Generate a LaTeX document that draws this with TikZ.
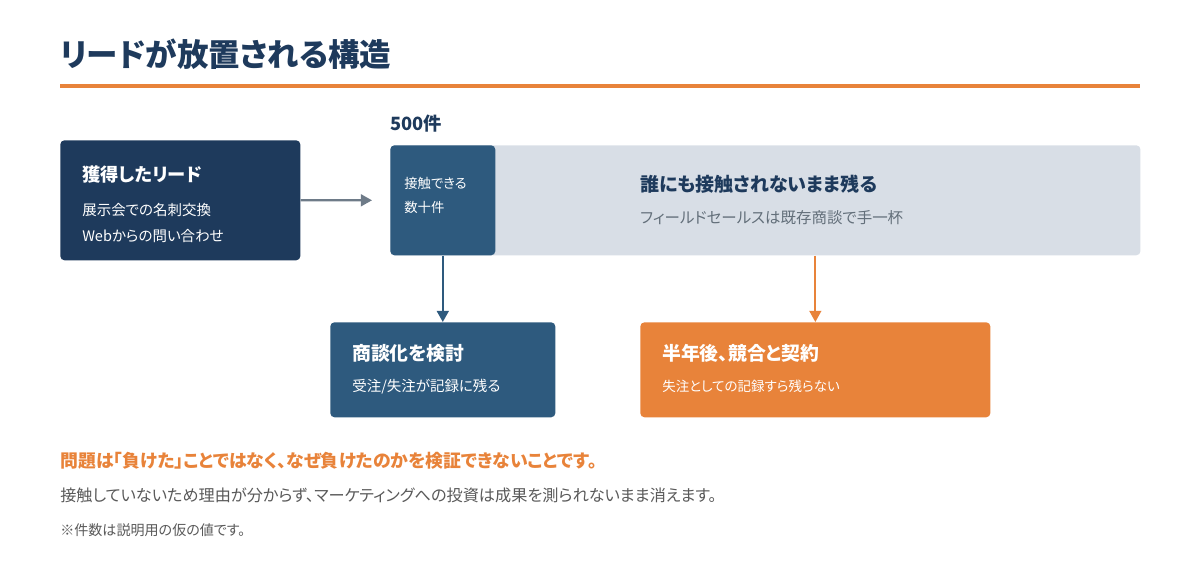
\documentclass[tikz,border=0pt]{standalone}
\usepackage{fontspec}
\setmainfont{Noto Sans CJK JP}[RawFeature=+palt]
\usetikzlibrary{positioning,arrows.meta}

\definecolor{navy}{HTML}{1E3A5C}
\definecolor{steel}{HTML}{2E5A7E}
\definecolor{mist}{HTML}{D8DEE6}
\definecolor{accent}{HTML}{E8833A}
\definecolor{slate}{HTML}{6E7B88}
\definecolor{inkgray}{HTML}{595959}

\begin{document}
\begin{tikzpicture}[x=0.025cm, y=-0.025cm,
  box/.style={rectangle, rounded corners=3pt, inner sep=0pt, anchor=north west},
  head/.style={anchor=base west, inner sep=0pt, text=white, font=\bfseries\fontsize{13.4}{15}\selectfont},
  sub/.style={anchor=base west, inner sep=0pt, text=white, font=\fontsize{10.3}{12}\selectfont},
  link/.style={line width=1.6pt, -{Triangle[length=8pt,width=8.5pt]}}]
  \useasboundingbox (0,0) rectangle (1200,560);
  % title
  \node[anchor=base west, inner sep=0pt, text=navy, font=\bfseries\fontsize{22.4}{26}\selectfont] (title) at (60,66) {リードが放置される構造};
  \draw[accent, line width=3pt] (60,86) -- (1140,86);
  \node[anchor=base west, inner sep=0pt, text=navy, font=\bfseries\fontsize{13}{15}\selectfont] (count) at (390,130) {500件};
  % boxes
  \node[box, fill=navy, minimum width=6cm, minimum height=3cm] (lead) at (60,140) {};
  \node[box, fill=mist, minimum width=18.75cm, minimum height=2.75cm] (pool) at (390,145) {};
  \node[box, fill=steel, minimum width=2.625cm, minimum height=2.75cm] (few) at (390,145) {};
  \node[box, fill=steel, minimum width=5.625cm, minimum height=2.375cm] (deal) at (330,322) {};
  \node[box, fill=accent, minimum width=8.75cm, minimum height=2.375cm] (lost) at (640,322) {};
  % texts
  \node[head, font=\bfseries\fontsize{13}{15}\selectfont] (leadhead) at (82,181) {獲得したリード};
  \node[sub] (leadone) at (82,215) {展示会での名刺交換};
  \node[sub] (leadtwo) at (82,241) {Webからの問い合わせ};
  \node[sub, font=\fontsize{9.5}{11}\selectfont] (fewone) at (404,188) {接触できる};
  \node[sub, font=\fontsize{9.5}{11}\selectfont] (fewtwo) at (404,212) {数十件};
  \node[head, text=navy, font=\bfseries\fontsize{13.5}{15}\selectfont] (poolhead) at (640,191) {誰にも接触されないまま残る};
  \node[sub, text=slate!90!black, font=\fontsize{11}{13}\selectfont] (poolsub) at (640,223) {フィールドセールスは既存商談で手一杯};
  \node[head] (dealhead) at (352,360) {商談化を検討};
  \node[sub] (dealsub) at (352,391) {受注/失注が記録に残る};
  \node[head] (losthead) at (662,360) {半年後、競合と契約};
  \node[sub, font=\fontsize{9.6}{11}\selectfont] (lostsub) at (662,391) {失注としての記録すら残らない};
  % arrows
  \draw[link, slate, shorten >=0.45cm] (lead.east) -- (pool.west);
  \draw[link, steel] (few.south) -- (few.south |- deal.north);
  \draw[link, accent, line width=1.3pt] (lost.north |- pool.south) -- (lost.north);
  % notes
  \node[anchor=base west, inner sep=0pt, text=accent, font=\bfseries\fontsize{12.7}{15}\selectfont] (issue) at (60,467) {問題は「負けた」ことではなく、なぜ負けたのかを検証できないことです。};
  \node[anchor=base west, inner sep=0pt, text=inkgray, font=\fontsize{11.5}{14}\selectfont] (reason) at (60,501) {接触していないため理由が分からず、マーケティングへの投資は成果を測られないまま消えます。};
  \node[anchor=base west, inner sep=0pt, text=inkgray, font=\fontsize{10}{12}\selectfont] (note) at (60,535) {※件数は説明用の仮の値です。};
\end{tikzpicture}
\end{document}
